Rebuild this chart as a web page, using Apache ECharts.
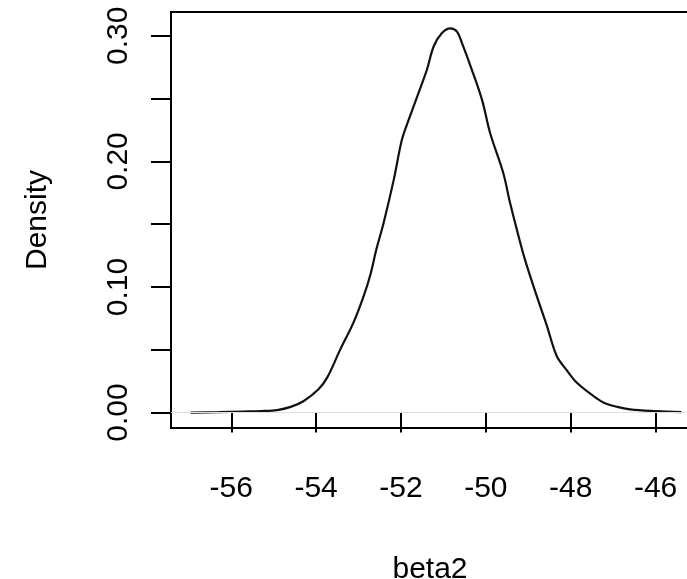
<!DOCTYPE html>
<html>
<head>
<meta charset="utf-8">
<script src="https://cdn.jsdelivr.net/npm/echarts@6/dist/echarts.min.js"></script>
<style>html,body{margin:0;padding:0;background:#fff}#c{width:687px;height:579px}</style>
</head>
<body>
<div id="c"></div>
<script>
var xValues = [-56.96,-56.3,-55.72,-55.3,-54.92,-54.6,-54.3,-53.95,-53.74,-53.43,-53.12,-52.88,-52.72,-52.58,-52.41,-52.17,-51.98,-51.82,-51.56,-51.39,-51.23,-51.04,-50.84,-50.68,-50.56,-50.33,-50.09,-49.90,-49.59,-49.43,-49.27,-49.08,-48.80,-48.56,-48.33,-48.1,-47.86,-47.5,-47.23,-46.9,-46.6,-46.0,-45.39];
var densityValues = [0.0,0.0003,0.0008,0.0012,0.002,0.0045,0.009,0.0183,0.0278,0.0503,0.0716,0.0927,0.110,0.130,0.151,0.1855,0.217,0.233,0.257,0.273,0.2915,0.302,0.306,0.3034,0.294,0.273,0.249,0.2226,0.1908,0.167,0.1457,0.122,0.0927,0.0689,0.045,0.034,0.0239,0.014,0.008,0.0045,0.0026,0.0012,0.0003];
var xTicks = [-56,-54,-52,-50,-48,-46];
var yTicks = [0,0.05,0.10,0.15,0.20,0.25,0.30];
var yLabels = [0,0.10,0.20,0.30];
var xTitle = 'beta2';
var yTitle = 'Density';

var pts = xValues.map(function(x,i){return [x, densityValues[i]];});
var font = 'Liberation Sans, Arial, sans-serif';
var chart = echarts.init(document.getElementById('c'), null, {renderer:'canvas'});
chart.setOption({
  animation:false,
  backgroundColor:'#fff',
  grid:{left:171, top:12, bottom:151, right:-14, outerBoundsMode:'none', containLabel:false, show:true, borderColor:'#000', borderWidth:2, backgroundColor:'transparent'},
  xAxis:{
    type:'value', min:-57.42, max:-44.93,
    axisLine:{show:false},
    splitLine:{show:false},
    axisTick:{show:true, customValues:xTicks, length:20, lineStyle:{color:'#000', width:2}},
    axisLabel:{customValues:xTicks, color:'#000', fontSize:30, fontFamily:font, margin:46, formatter:function(v){return String(v);}},
    name:xTitle, nameLocation:'middle', nameGap:127,
    nameTextStyle:{color:'#000', fontSize:30, fontFamily:font, padding:[0,12,0,0]}
  },
  yAxis:{
    type:'value', min:-0.0123, max:0.319,
    axisLine:{show:false},
    splitLine:{show:false},
    axisTick:{show:true, customValues:yTicks, length:20, lineStyle:{color:'#000', width:2}},
    axisLabel:{customValues:yLabels, rotate:90, color:'#000', fontSize:30, fontFamily:font, margin:37, formatter:function(v){return v.toFixed(2);}},
    name:yTitle, nameLocation:'middle', nameGap:118, nameRotate:90,
    nameTextStyle:{color:'#000', fontSize:30, fontFamily:font}
  },
  series:[{
    type:'line', data:pts, showSymbol:false, smooth:0.35,
    lineStyle:{color:'#111', width:2.2},
    markLine:{silent:true, symbol:'none', label:{show:false}, lineStyle:{color:'#e0e0e0', width:1, type:'solid'}, data:[{yAxis:0}]}
  }]
});
</script>
</body>
</html>
